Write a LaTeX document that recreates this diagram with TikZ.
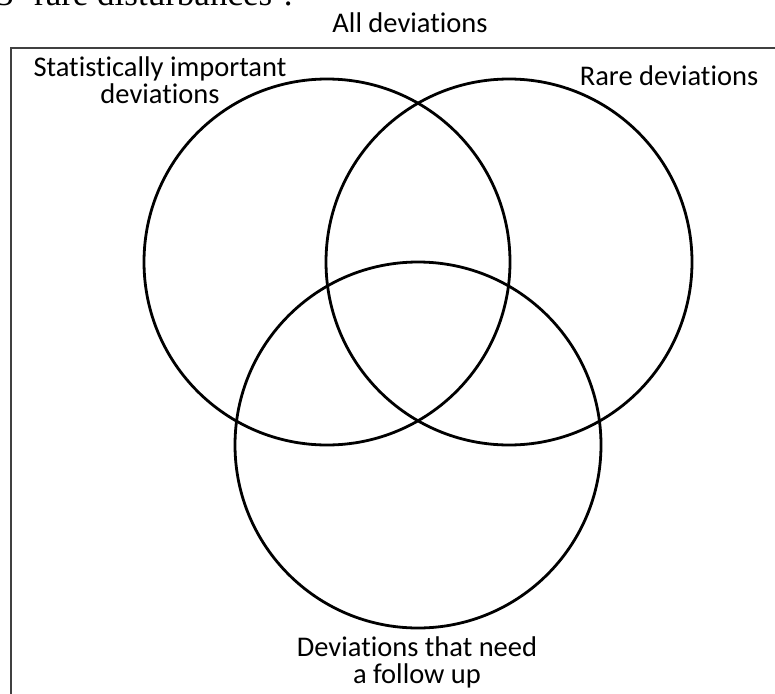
\documentclass[tikz,border=0pt]{standalone}
\usepackage{fontspec}
\setmainfont{Carlito}[Ligatures={NoCommon}]
\newfontfamily\bodyserif{Liberation Serif}
\begin{document}
\begin{tikzpicture}[x=1pt,y=-1pt,
  setcircle/.style={draw=black,line width=2.8pt},
  frameline/.style={draw=black!75,line width=2pt},
  lbl/.style={font=\fontsize{28.5}{27}\selectfont,align=center,inner sep=0pt,anchor=base}]
  \useasboundingbox (0,0) rectangle (775,693);
  \clip (0,0) rectangle (775,693);
  % running text above the figure
  \node[anchor=base west,inner sep=0pt,font=\bodyserif\fontsize{35}{40}\selectfont] (para) at (-4,6) {3 ‘rare disturbances’.};
  % universe frame
  \coordinate (ftl) at (11,48);
  \coordinate (ftr) at (780,48);
  \coordinate (fbl) at (11,700);
  \draw[frameline] (ftr) -- (ftl) -- (fbl);
  % three sets
  \node[setcircle,circle,minimum size=366pt,inner sep=0pt] (stat) at (327,262) {};
  \node[setcircle,circle,minimum size=366pt,inner sep=0pt] (rare) at (509,262) {};
  \node[setcircle,circle,minimum size=366pt,inner sep=0pt] (follow) at (418,445) {};
  % labels (base = baseline of the last line)
  \node[lbl] (all) at (410,33) {All deviations};
  \node[lbl] (statl) at (160,103) {Statistically important\\deviations};
  \node[lbl] (rarel) at (669,85) {Rare deviations};
  \node[lbl] (followl) at (417,683) {Deviations that need\\a follow up};
\end{tikzpicture}
\end{document}
